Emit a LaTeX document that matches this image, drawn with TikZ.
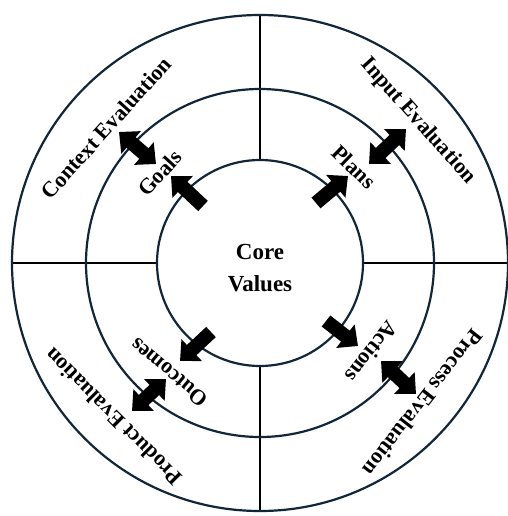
\documentclass[tikz,border=0pt]{standalone}
\usepackage{fontspec}
\setmainfont{Liberation Serif}
\usetikzlibrary{arrows.meta}
\definecolor{ring}{HTML}{12263A}
\begin{document}
\begin{tikzpicture}[x=1pt,y=-1pt,
  ringline/.style={draw=ring,line width=2.2pt},
  divider/.style={draw=black,line width=1.6pt},
  lbl/.style={font=\bfseries\fontsize{22}{24}\selectfont, inner sep=0pt},
  onearrow/.style={draw=black, line width=14pt, -{Triangle[length=16pt,width=29pt]}},
  twoarrow/.style={draw=black, line width=14pt, {Triangle[length=16pt,width=29pt]}-{Triangle[length=16pt,width=29pt]}},
]
\useasboundingbox (0,0) rectangle (507,516);
\fill[white] (0,0) rectangle (507,516);
\coordinate (c) at (260,263);
% dividers
\draw[divider] ([yshift=-248pt]c) -- ([yshift=-103pt]c);
\draw[divider] ([yshift=248pt]c) -- ([yshift=103pt]c);
\draw[divider] ([xshift=-248pt]c) -- ([xshift=-103pt]c);
\draw[divider] ([xshift=248pt]c) -- ([xshift=103pt]c);
% rings
\draw[ringline] (c) circle[radius=103pt];
\draw[ringline] (c) circle[radius=174pt];
\draw[ringline] (c) circle[radius=248pt];
% arrow end points
\coordinate (gs1) at (203,206); \coordinate (gs2) at (171,176);
\coordinate (ps1) at (316,203); \coordinate (ps2) at (348,176);
\coordinate (os1) at (211,332); \coordinate (os2) at (180,361);
\coordinate (as1) at (326,321); \coordinate (as2) at (358,346);
\coordinate (gd1) at (156,164); \coordinate (gd2) at (119,132);
\coordinate (pd1) at (369,164); \coordinate (pd2) at (406,129);
\coordinate (od1) at (166,379); \coordinate (od2) at (132,411);
\coordinate (ad1) at (381,361); \coordinate (ad2) at (416,394);
\draw[onearrow] (gs1) -- (gs2);
\draw[onearrow] (ps1) -- (ps2);
\draw[onearrow] (os1) -- (os2);
\draw[onearrow] (as1) -- (as2);
\draw[twoarrow] (gd1) -- (gd2);
\draw[twoarrow] (pd1) -- (pd2);
\draw[twoarrow] (od1) -- (od2);
\draw[twoarrow] (ad1) -- (ad2);
% centre text
\node[font=\bfseries\fontsize{23}{32}\selectfont, align=center, inner sep=0pt] (core) at (260,268.5) {Core\\Values};
% labels
\node[lbl, rotate=48] (ctx) at (106,128) {Context Evaluation};
\node[lbl, rotate=47.5] (goals) at (160,173) {Goals};
\node[lbl, rotate=-48] (inp) at (418,121) {Input Evaluation};
\node[lbl, rotate=-44] (plans) at (354,167) {Plans};
\node[lbl, rotate=140] (outc) at (169,373) {Outcomes};
\node[lbl, rotate=135] (prod) at (113,417) {Product Evaluation};
\node[lbl, rotate=-128] (act) at (372,352) {Actions};
\node[lbl, rotate=-128] (proc) at (423,403) {Process Evaluation};
\end{tikzpicture}
\end{document}
